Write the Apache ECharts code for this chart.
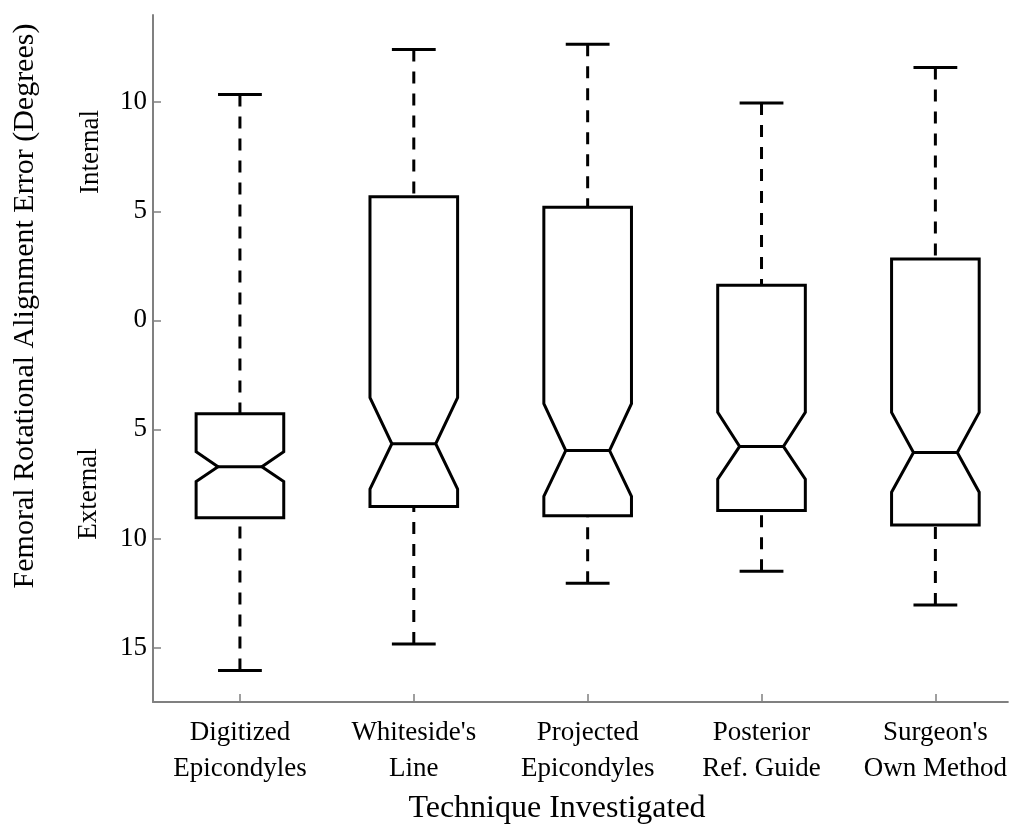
<!DOCTYPE html>
<html><head><meta charset="utf-8">
<script src="https://cdn.jsdelivr.net/npm/echarts@6/dist/echarts.min.js"></script>
<style>html,body{margin:0;padding:0;background:#fff}#c{width:1010px;height:825px}</style>
</head><body><div id="c"></div>
<script>
// Notched box plot data (degrees; positive = internal, negative = external)
const categories = ['Digitized\nEpicondyles', "Whiteside's\nLine", 'Projected\nEpicondyles', 'Posterior\nRef. Guide', "Surgeon's\nOwn Method"];
const categoryPositions = [1, 2, 3, 4, 5];
const whiskerLow  = [-16.05, -14.84, -12.05, -11.50, -13.05];
const q1          = [-9.05, -8.54, -8.96, -8.72, -9.38];
const notchLow    = [-7.39, -7.74, -8.07, -7.28, -7.88];
const median      = [-6.71, -5.66, -5.97, -5.78, -6.06];
const notchHigh   = [-6.02, -3.54, -3.82, -4.22, -4.22];
const q3          = [-4.28, 5.67, 5.18, 1.61, 2.81];
const whiskerHigh = [10.35, 12.42, 12.66, 9.97, 11.59];
const yTickValues = [-15, -10, -5, 0, 5, 10];
const yTickLabels = ['15', '10', '5', '0', '5', '10'];

const FONT = '"Liberation Serif", "Times New Roman", serif';
const seriesData = categories.map((c, i) => [categoryPositions[i], whiskerLow[i], q1[i], notchLow[i], median[i], notchHigh[i], q3[i], whiskerHigh[i]]);

function renderItem(params, api) {
  const xv = api.value(0);
  const band = api.size([1, 0])[0];
  const hw = band * 0.252;
  const nw = hw / 2;
  const capW = hw / 2;
  const cx = api.coord([xv, 0])[0];
  const y = v => api.coord([xv, v])[1];
  const yMin = y(api.value(1)), yQ1 = y(api.value(2)), yNL = y(api.value(3)),
        yMed = y(api.value(4)), yNH = y(api.value(5)), yQ3 = y(api.value(6)), yMax = y(api.value(7));
  const L = cx - hw, R = cx + hw;
  const solid = { stroke: '#000', lineWidth: 3, fill: null };
  const dashed = { stroke: '#000', lineWidth: 3, lineDash: [12, 10] };
  return {
    type: 'group',
    children: [
      { type: 'line', shape: { x1: cx, y1: yMax, x2: cx, y2: yQ3 }, style: dashed },
      { type: 'line', shape: { x1: cx, y1: yMin, x2: cx, y2: yQ1 }, style: dashed },
      { type: 'line', shape: { x1: cx - capW, y1: yMax, x2: cx + capW, y2: yMax }, style: solid },
      { type: 'line', shape: { x1: cx - capW, y1: yMin, x2: cx + capW, y2: yMin }, style: solid },
      { type: 'polygon', shape: { points: [
          [L, yQ3], [R, yQ3], [R, yNH], [cx + nw, yMed], [R, yNL], [R, yQ1],
          [L, yQ1], [L, yNL], [cx - nw, yMed], [L, yNH]
        ] }, style: { stroke: '#000', lineWidth: 3, fill: '#fff', lineJoin: 'miter' } },
      { type: 'line', shape: { x1: cx - nw, y1: yMed, x2: cx + nw, y2: yMed }, style: solid }
    ]
  };
}

const chart = echarts.init(document.getElementById('c'), null, { renderer: 'canvas' });
chart.setOption({
  animation: false,
  backgroundColor: '#fff',
  grid: { left: 153, top: 15, right: 0, height: 687, containLabel: false },
  xAxis: {
    type: 'value',
    min: 0.5,
    max: 5.417,
    axisLine: { show: true, onZero: false, lineStyle: { color: '#808080', width: 2 } },
    axisTick: { show: true, inside: true, length: 8, customValues: categoryPositions, lineStyle: { color: '#808080', width: 1.5 } },
    axisLabel: {
      color: '#000', fontFamily: FONT, fontSize: 27, lineHeight: 36, margin: 13,
      customValues: categoryPositions,
      formatter: v => categories[categoryPositions.indexOf(v)]
    },
    splitLine: { show: false }
  },
  yAxis: {
    type: 'value',
    min: -17.5,
    max: 14,
    axisLine: { show: true, onZero: false, lineStyle: { color: '#808080', width: 2 } },
    axisTick: { show: true, inside: true, length: 8, customValues: yTickValues, lineStyle: { color: '#808080', width: 1.5 } },
    axisLabel: {
      color: '#000', fontFamily: FONT, fontSize: 27, margin: 6,
      customValues: yTickValues,
      formatter: v => yTickLabels[yTickValues.indexOf(v)]
    },
    splitLine: { show: false }
  },
  graphic: [
    { type: 'text', x: 25, y: 306, rotation: Math.PI / 2,
      style: { text: 'Femoral Rotational Alignment Error (Degrees)', font: '30px ' + FONT, fill: '#000', align: 'center', verticalAlign: 'middle' } },
    { type: 'text', x: 91, y: 152, rotation: Math.PI / 2,
      style: { text: 'Internal', font: '27px ' + FONT, fill: '#000', align: 'center', verticalAlign: 'middle' } },
    { type: 'text', x: 89, y: 494, rotation: Math.PI / 2,
      style: { text: 'External', font: '27px ' + FONT, fill: '#000', align: 'center', verticalAlign: 'middle' } },
    { type: 'text', x: 557, y: 809,
      style: { text: 'Technique Investigated', font: '32px ' + FONT, fill: '#000', align: 'center', verticalAlign: 'middle' } }
  ],
  series: [{
    type: 'custom',
    renderItem: renderItem,
    clip: false,
    encode: { x: 0, y: [1, 2, 3, 4, 5, 6, 7] },
    data: seriesData
  }]
});
</script>
</body></html>
